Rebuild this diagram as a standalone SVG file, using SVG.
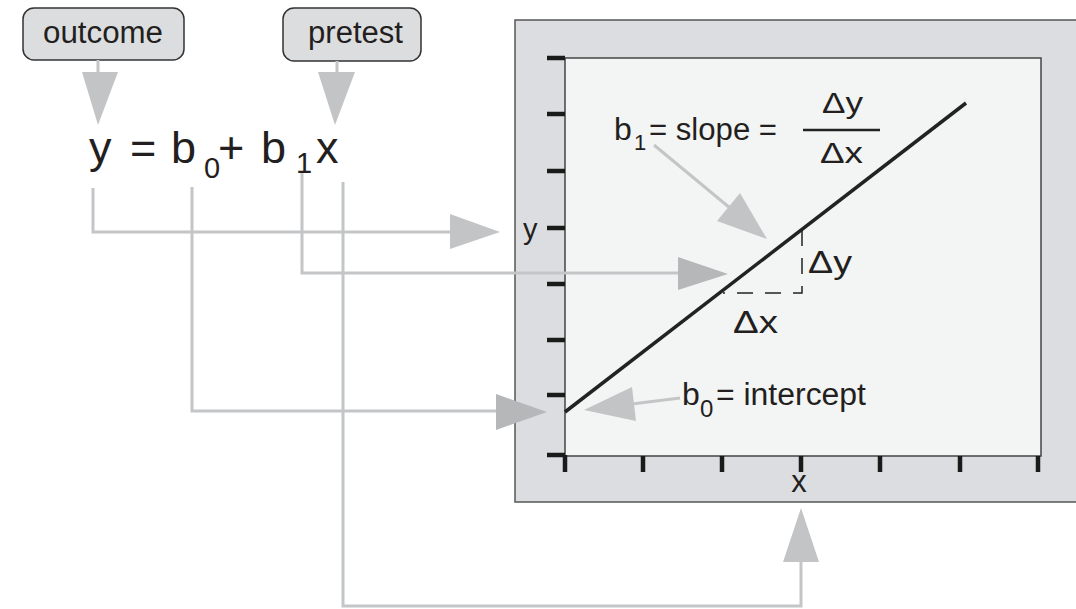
<svg xmlns="http://www.w3.org/2000/svg" width="1076" height="609" viewBox="0 0 1076 609">
<style>
text{font-family:"Liberation Sans",Arial,sans-serif;fill:#231f20}
.lbl{font-size:31px}
.eq{font-size:45px}
.sub{font-size:29px}
.conn{fill:none;stroke:#c4c5c7;stroke-width:3}
.head{fill:#c3c4c6}
.head2{fill:#b6b7b9}
.tick{stroke:#1a1a1a;stroke-width:4.5}
.dash{stroke:#222;stroke-width:1.5;stroke-dasharray:16 12;fill:none}
</style>
<rect width="1076" height="609" fill="#ffffff"/>
<g id="plot">
<rect x="515" y="20" width="570" height="482" fill="#dcdde0" stroke="#555" stroke-width="1.5"/>
<rect x="565" y="58" width="476" height="398" fill="#f3f4f4" stroke="#444" stroke-width="1.5"/>
<g class="tick">
<line x1="547" y1="58" x2="565" y2="58"/>
<line x1="547" y1="114" x2="565" y2="114"/>
<line x1="547" y1="171" x2="565" y2="171"/>
<line x1="547" y1="228" x2="565" y2="228"/>
<line x1="547" y1="284" x2="565" y2="284"/>
<line x1="547" y1="340" x2="565" y2="340"/>
<line x1="547" y1="395" x2="565" y2="395"/>
<line x1="547" y1="455" x2="565" y2="455"/>
<line x1="565" y1="455" x2="565" y2="472"/>
<line x1="643" y1="456" x2="643" y2="472"/>
<line x1="722" y1="456" x2="722" y2="472"/>
<line x1="801" y1="456" x2="801" y2="472"/>
<line x1="880" y1="456" x2="880" y2="472"/>
<line x1="960" y1="456" x2="960" y2="472"/>
<line x1="1038" y1="456" x2="1038" y2="472"/>
</g>
<line x1="565" y1="412" x2="966" y2="103" stroke="#222" stroke-width="3.5"/>
<path class="dash" d="M802 230 V293 H723"/>
<text x="523" y="239" font-size="29">y</text>
<text class="lbl" x="799" y="492" text-anchor="middle">x</text>
<text class="lbl" x="808" y="273" textLength="44" lengthAdjust="spacingAndGlyphs">Δy</text>
<text class="lbl" x="733" y="333" textLength="45" lengthAdjust="spacingAndGlyphs">Δx</text>
<text x="614" y="140" font-size="32">b</text>
<text x="634" y="150" font-size="22">1</text>
<text class="lbl" x="649" y="140" textLength="128" lengthAdjust="spacingAndGlyphs">= slope =</text>
<text x="822" y="113" font-size="29" textLength="41" lengthAdjust="spacingAndGlyphs">Δy</text>
<line x1="803" y1="130" x2="880" y2="130" stroke="#222" stroke-width="2.5"/>
<text x="820" y="163" font-size="29" textLength="43" lengthAdjust="spacingAndGlyphs">Δx</text>
<text x="682" y="405" font-size="32">b</text>
<text x="700" y="417" font-size="24">0</text>
<text class="lbl" x="716" y="405" textLength="150" lengthAdjust="spacingAndGlyphs">= intercept</text>
</g>
<g id="outcome">
<rect x="23" y="8" width="161" height="52" rx="11" fill="#dcdddf" stroke="#333" stroke-width="1.5"/>
<text class="lbl" x="43" y="43" textLength="120" lengthAdjust="spacingAndGlyphs">outcome</text>
</g>
<g id="pretest">
<rect x="283" y="8" width="138" height="53" rx="11" fill="#dcdddf" stroke="#333" stroke-width="1.5"/>
<text class="lbl" x="308" y="43" textLength="95" lengthAdjust="spacingAndGlyphs">pretest</text>
</g>
<g id="equation">
<text class="eq" x="89" y="163">y</text>
<text class="eq" x="130" y="163">=</text>
<text class="eq" x="171" y="163">b</text>
<text class="sub" x="204" y="178">0</text>
<text class="eq" x="218" y="163">+</text>
<text class="eq" x="261" y="163">b</text>
<text class="sub" x="296" y="173">1</text>
<text class="eq" x="316" y="163">x</text>
</g>
<g id="connectors">
<line class="conn" x1="98" y1="60" x2="98" y2="74"/>
<polygon class="head" points="82,72 118,72 98,125"/>
<line class="conn" x1="337" y1="61" x2="337" y2="74"/>
<polygon class="head" points="318,72 355,72 335,125"/>
<path class="conn" d="M93 188 V232 H452"/>
<polygon class="head" points="450,214 450,249 500,232"/>
<path class="conn" d="M192 187 V411 H498"/>
<polygon class="head2" points="496,394 496,430 547,412"/>
<path class="conn" d="M302 173 V273 H680"/>
<polygon class="head2" points="678,257 678,290 728,274"/>
<path class="conn" d="M343 182 V606 H801 V560"/>
<polygon class="head" points="783,562 819,562 801,508"/>
<line class="conn" x1="654" y1="145" x2="730" y2="208"/>
<polygon class="head" points="717,221 740,193 767,239"/>
<line class="conn" x1="680" y1="398" x2="632" y2="404"/>
<polygon class="head" points="636,421 632,387 584,410"/>
</g>
</svg>
